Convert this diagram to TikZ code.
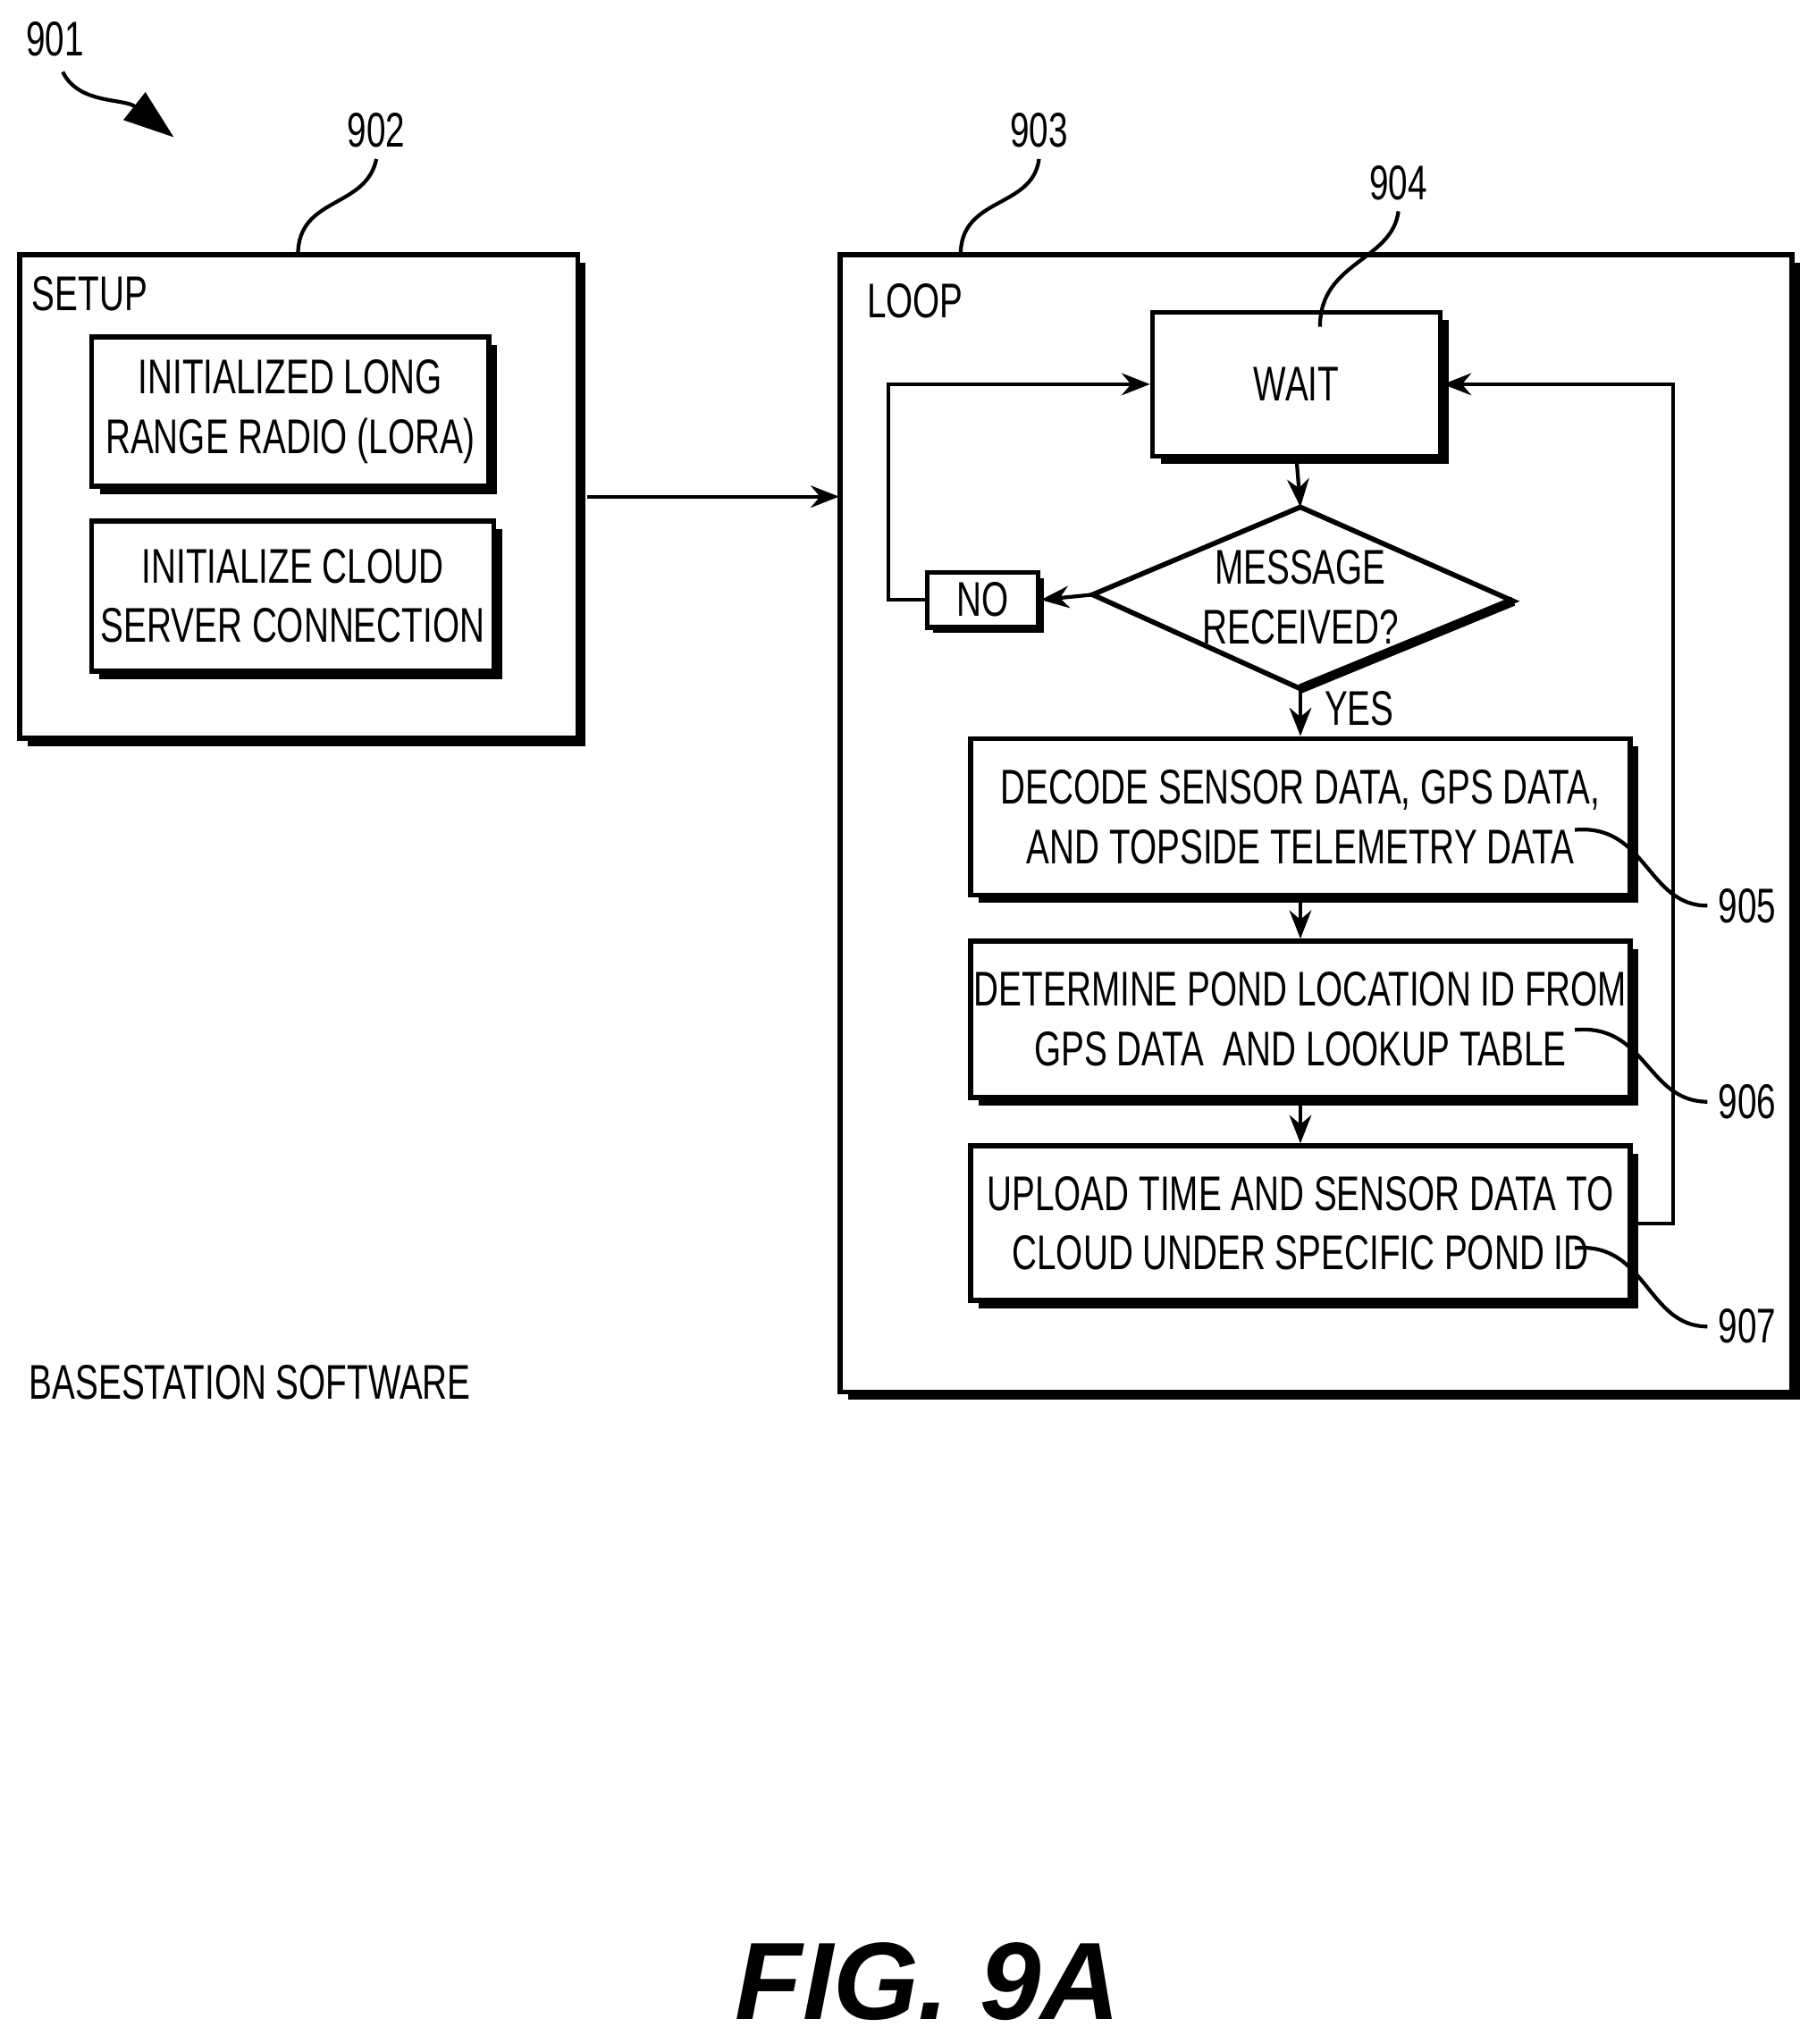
\documentclass[tikz,border=0pt]{standalone}
\usepackage{fontspec}
\setmainfont{Liberation Sans}[FakeStretch=0.71]
\newfontfamily\figfont{Liberation Sans}
\usetikzlibrary{arrows.meta,shadows}
\tikzset{
  box/.style={draw,line width=1.6pt,fill=white,align=center,inner sep=1pt,
    drop shadow={shadow xshift=0.09cm,shadow yshift=-0.09cm,fill=black,opacity=1}},
  txt/.style={font=\fontsize{15.5}{19}\selectfont},
  flow/.style={line width=1.2pt,-{Stealth[length=9pt,width=7pt]}},
  lead/.style={line width=1.2pt}
}
\begin{document}
\begin{tikzpicture}[x=0.01462cm,y=-0.01462cm,txt]
  \useasboundingbox (0,0) rectangle (1390,1564);
  % labels and leaders
  \node (l901) at (42,30) {901};
  \coordinate (a901) at (133,105);
  \draw[line width=1.2pt,-{Triangle[length=16pt,width=11pt]}] (48,55) .. controls (60,80) and (95,75) .. (a901);
  \node (l902) at (288,100) {902};
  \node (l903) at (795,100) {903};
  \node (l904) at (1070,140) {904};
  % setup block
  \path[box] (15,195) rectangle (442,565);
  \coordinate (setupR) at (449,380);
  \node[anchor=west] (setuplbl) at (16,225) {SETUP};
  \node[box,minimum width=4.44cm,minimum height=1.67cm] (lora) at (222,315) {INITIALIZED LONG\\RANGE RADIO (LORA)};
  \node[box,minimum width=4.50cm,minimum height=1.68cm] (cloud) at (224,456) {INITIALIZE CLOUD\\SERVER CONNECTION};
  \draw[lead] (228,195) .. controls (228,150) and (280,160) .. (l902.south);
  % loop block
  \path[box] (643,195) rectangle (1371,1065);
  \coordinate (loopL) at (642,380);
  \node[anchor=west] (looplbl) at (655,230) {LOOP};
  \draw[lead] (735,195) .. controls (735,150) and (790,160) .. (l903.south);
  \draw[flow] (setupR) -- (loopL);
  \node[box,minimum width=3.22cm,minimum height=1.61cm] (wait) at (992,294) {WAIT};
  \draw[lead] (1010,250) .. controls (1010,200) and (1065,200) .. (l904.south);
  % decision
  \coordinate (dT) at (995,388);
  \coordinate (dL) at (836,455);
  \coordinate (dR) at (1158,460);
  \coordinate (dB) at (995,527);
  \draw[line width=1.6pt,fill=white] (dT) -- (dR) -- (dB) -- (dL) -- cycle;
  \draw[line width=3pt] (dR) -- (dB);
  \node[align=center] (dtxt) at (995,457) {MESSAGE\\RECEIVED?};
  \node[draw,line width=1.6pt,fill=white,minimum width=1.24cm,minimum height=0.61cm,inner sep=0pt,
    drop shadow={shadow xshift=0.06cm,shadow yshift=-0.06cm,fill=black,opacity=1}] (no) at (752,459) {NO};
  \node (yes) at (1040,542) {YES};
  \node[box,minimum width=7.38cm,minimum height=1.75cm] (decode) at (995,625) {DECODE SENSOR DATA, GPS DATA,\\AND TOPSIDE TELEMETRY DATA};
  \node[box,minimum width=7.38cm,minimum height=1.75cm] (pond) at (995,780) {DETERMINE POND LOCATION ID FROM\\GPS DATA\ \ AND LOOKUP TABLE};
  \node[box,minimum width=7.38cm,minimum height=1.73cm] (upload) at (995,936) {UPLOAD TIME AND SENSOR DATA TO\\CLOUD UNDER SPECIFIC POND ID};
  % connectors
  \draw[flow] (wait.south) -- (dT);
  \draw[flow] (dL) -- (no.east);
  \draw[flow] (no.west) -- ++(-28,0) |- (wait.west);
  \draw[flow] (dB) -- (decode.north);
  \draw[flow] (decode.south) -- (pond.north);
  \draw[flow] (pond.south) -- (upload.north);
  \draw[flow] (upload.east) -- ++(31,0) |- (wait.east);
  % reference numerals
  \node (l905) at (1337,693) {905};
  \node (l906) at (1337,843) {906};
  \node (l907) at (1337,1015) {907};
  \draw[lead] (1205,635) .. controls (1260,630) and (1260,693) .. (l905.west);
  \draw[lead] (1205,788) .. controls (1260,783) and (1260,843) .. (l906.west);
  \draw[lead] (1205,955) .. controls (1260,950) and (1260,1015) .. (l907.west);
  \node[anchor=west] (title) at (14,1058) {BASESTATION SOFTWARE};
  \node (fig) at (710,1516) {\figfont\fontsize{35}{40}\selectfont\bfseries\itshape FIG. 9A};
\end{tikzpicture}
\end{document}
